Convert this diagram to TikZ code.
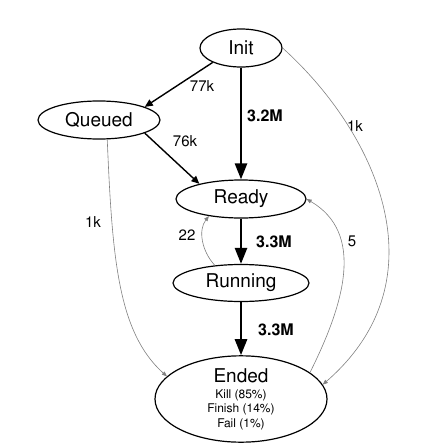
\documentclass[tikz,border=0pt]{standalone}
\usepackage[T1]{fontenc}
\usepackage{helvet}
\usepackage{graphicx}
\renewcommand{\familydefault}{\sfdefault}
\usetikzlibrary{shapes.geometric,arrows.meta}
\newcommand{\statetext}[1]{\scalebox{1.9}{#1}}
\newcommand{\counttext}[1]{\scalebox{1.5}{#1}}
\newcommand{\bigcounttext}[1]{\scalebox{1.6}{\bfseries #1}}
\newcommand{\subtext}[1]{\scalebox{1.2}{#1}}
\tikzstyle{state}=[ellipse, draw=black, line width=1.2pt, inner sep=0pt]
\tikzstyle{bigedge}=[draw=black, line width=2.6pt, -{Triangle[length=16pt,width=12pt]}]
\tikzstyle{countedge}=[draw=black, line width=1.4pt, -{Triangle[length=8pt,width=7pt]}]
\tikzstyle{thinedge}=[draw=gray, line width=0.6pt, -{Triangle[length=5pt,width=4pt]}]
\tikzstyle{countlabel}=[inner sep=0pt]

\begin{document}
\begin{tikzpicture}[x=1pt, y=-1pt]
	\useasboundingbox (0, 0) rectangle (422, 447);
	\node [style=state, minimum width=82pt, minimum height=38pt] (Init) at (241, 48) {\statetext{Init}};
	\node [style=state, minimum width=122pt, minimum height=38pt] (Queued) at (99, 120) {\statetext{Queued}};
	\node [style=state, minimum width=130pt, minimum height=38pt] (Ready) at (241, 199) {\statetext{Ready}};
	\node [style=state, minimum width=136pt, minimum height=37pt] (Running) at (241, 283) {\statetext{Running}};
	\node [style=state, minimum width=172pt, minimum height=80pt, align=center] (Ended) at (241, 399) {\statetext{Ended}\\[4pt]\subtext{Kill (85\%)}\\[2.5pt]\subtext{Finish (14\%)}\\[2.5pt]\subtext{Fail (1\%)}};
	\node [style=countlabel] (l77k) at (202, 86) {\counttext{77k}};
	\node [style=countlabel] (l32M) at (265, 116) {\bigcounttext{3.2M}};
	\node [style=countlabel] (l76k) at (185, 141) {\counttext{76k}};
	\node [style=countlabel] (l1kright) at (355, 126) {\counttext{1k}};
	\node [style=countlabel] (l1kleft) at (93, 222) {\counttext{1k}};
	\node [style=countlabel] (l22) at (187, 235) {\counttext{22}};
	\node [style=countlabel] (l33Ma) at (274, 242) {\bigcounttext{3.3M}};
	\node [style=countlabel] (l5) at (352, 242) {\counttext{5}};
	\node [style=countlabel] (l33Mb) at (276, 330) {\bigcounttext{3.3M}};
	% counts of moves between the states
	\draw [style=countedge] (Init.207) to (Queued.16);
	\draw [style=countedge] (Queued.-16) to (Ready.160);
	\draw [style=bigedge] (Init.south) to (Ready.north);
	\draw [style=bigedge] (Ready.south) to (Running.north);
	\draw [style=bigedge] (Running.south) to (Ended.north);
	\draw [style=thinedge] (Queued.-67) .. controls +(5, 119) and +(-49, -44) .. (Ended.163);
	\draw [style=thinedge] (Init.east) .. controls +(91, 82) and +(123, -107) .. (Ended.10);
	\draw [style=thinedge] (Ended.21) .. controls +(35, -70) and +(58, 34) .. (Ready.east);
	\draw [style=thinedge] (Running.146) .. controls +(-13, -14) and +(-11, 14) .. (Ready.208);
\end{tikzpicture}
\end{document}
